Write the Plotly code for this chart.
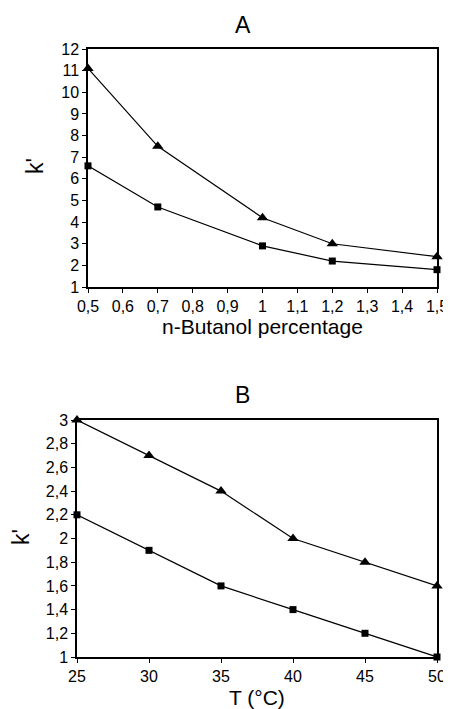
import plotly.graph_objects as go

# Panel A data
butanol_pct = [0.5, 0.7, 1.0, 1.2, 1.5]
a_triangle = [11.1, 7.5, 4.2, 3.0, 2.4]
a_square = [6.6, 4.7, 2.9, 2.2, 1.8]
a_xticks = [0.5, 0.6, 0.7, 0.8, 0.9, 1.0, 1.1, 1.2, 1.3, 1.4, 1.5]
a_yticks = list(range(1, 13))

# Panel B data
temperature = [25, 30, 35, 40, 45, 50]
b_triangle = [3.0, 2.7, 2.4, 2.0, 1.8, 1.6]
b_square = [2.2, 1.9, 1.6, 1.4, 1.2, 1.0]
b_xticks = [25, 30, 35, 40, 45, 50]
b_yticks = [1, 1.2, 1.4, 1.6, 1.8, 2, 2.2, 2.4, 2.6, 2.8, 3]

# page body has an 8px margin; size the figure so it fits the 451x709 window
W, H, OFF = 443, 701, 8


def px_x(x):
    return (x - OFF) / W


def px_y(y):
    return 1 - (y - OFF) / H


fig = go.Figure()
line = dict(color="black", width=1.2)
tri = dict(symbol="triangle-up", size=10, color="black")
sq = dict(symbol="square", size=7, color="black")

fig.add_trace(go.Scatter(x=butanol_pct, y=a_triangle, mode="lines+markers", line=line, marker=tri,
                         xaxis="x", yaxis="y", cliponaxis=False, showlegend=False))
fig.add_trace(go.Scatter(x=butanol_pct, y=a_square, mode="lines+markers", line=line, marker=sq,
                         xaxis="x", yaxis="y", cliponaxis=False, showlegend=False))
fig.add_trace(go.Scatter(x=temperature, y=b_triangle, mode="lines+markers", line=line, marker=tri,
                         xaxis="x2", yaxis="y2", cliponaxis=False, showlegend=False))
fig.add_trace(go.Scatter(x=temperature, y=b_square, mode="lines+markers", line=line, marker=sq,
                         xaxis="x2", yaxis="y2", cliponaxis=False, showlegend=False))

axis_common = dict(showline=True, linecolor="black", linewidth=1.5, mirror=True, showgrid=False,
                   zeroline=False, ticks="outside", ticklen=4, tickcolor="black", automargin=False,
                   tickfont=dict(size=16, color="black"))


def label(text, x, y, size, angle=0):
    return dict(text=text, x=px_x(x), y=px_y(y), xref="paper", yref="paper", showarrow=False,
                xanchor="center", yanchor="middle", textangle=angle, font=dict(size=size))


fig.update_layout(
    width=W, height=H,
    margin=dict(l=0, r=0, t=0, b=0, autoexpand=False),
    paper_bgcolor="white", plot_bgcolor="white",
    separators=",.",
    font=dict(family="Liberation Sans, Arial, sans-serif", color="black"),
    xaxis=dict(domain=[px_x(88), px_x(437)], anchor="y", range=[0.5, 1.5], tickvals=a_xticks,
               **axis_common),
    yaxis=dict(domain=[px_y(287), px_y(49)], anchor="x", range=[1, 12], tickvals=a_yticks,
               **axis_common),
    xaxis2=dict(domain=[px_x(77), px_x(437)], anchor="y2", range=[25, 50], tickvals=b_xticks,
                **axis_common),
    yaxis2=dict(domain=[px_y(657), px_y(420)], anchor="x2", range=[1, 3], tickvals=b_yticks,
                **axis_common),
    annotations=[
        label("A", 243, 25, 23),
        label("B", 242, 395, 23),
        label("n-Butanol percentage", 262, 327, 21),
        label("T (°C)", 257, 697, 21),
        label("k'", 35, 166, 23, -90),
        label("k'", 21, 537, 23, -90),
    ],
)

fig.write_html("out.html")
